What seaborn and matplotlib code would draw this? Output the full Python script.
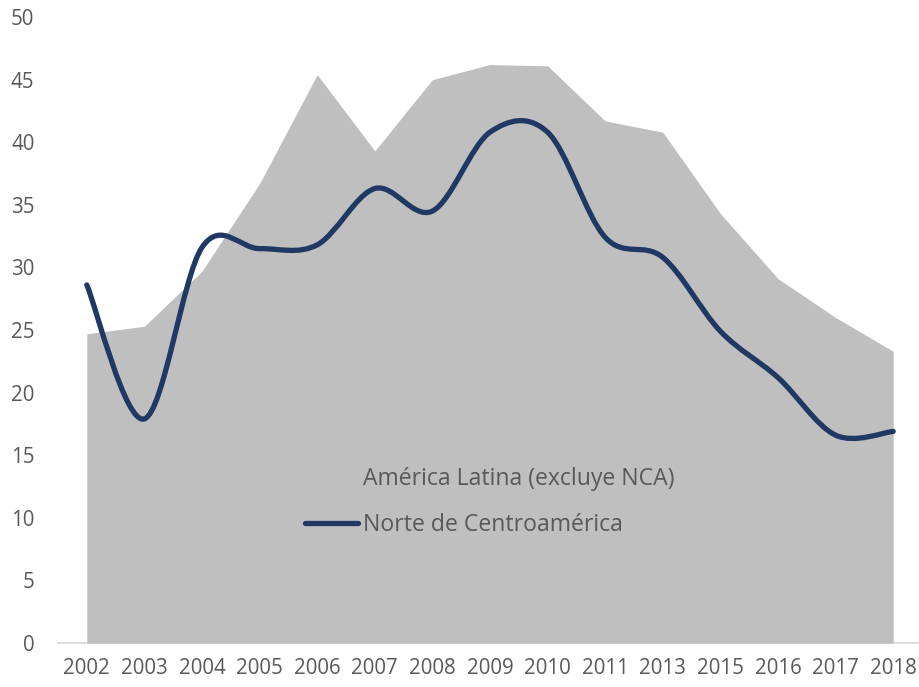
import numpy as np
import pandas as pd
import seaborn as sns
import matplotlib
matplotlib.use("Agg")
import matplotlib.pyplot as plt
from matplotlib.path import Path
from matplotlib.patches import PathPatch, Patch
from matplotlib.lines import Line2D

years = ["2002", "2003", "2004", "2005", "2006", "2007", "2008", "2009",
         "2010", "2011", "2013", "2015", "2016", "2017", "2018"]
america_latina = [24.7, 25.3, 29.7, 36.7, 45.4, 39.3, 45.0, 46.2,
                  46.1, 41.7, 40.8, 34.3, 29.1, 26.0, 23.3]
norte_ca = [28.6, 17.9, 31.6, 31.5, 31.8, 36.3, 34.5, 40.8,
            40.8, 32.4, 30.8, 24.9, 21.2, 16.6, 16.9]
yticks = [0, 5, 10, 15, 20, 25, 30, 35, 40, 45, 50]
label_al = "América Latina (excluye NCA)"
label_nca = "Norte de Centroamérica"

df = pd.DataFrame({"year": years, "al": america_latina, "nca": norte_ca})
df["pos"] = np.arange(len(df))

sns.set_theme(style="white")
plt.rcParams["font.family"] = ["Open Sans", "DejaVu Sans"]

TXT = "#595959"
GRAY = "#BFBFBF"
NAVY = "#1F3864"

W, H = 919, 687
fig = plt.figure(figsize=(W / 100, H / 100), dpi=100)
left, right, bottom, top = 58, 922, 643, 17
ax = fig.add_axes([left / W, (H - bottom) / H, (right - left) / W, (bottom - top) / H])

# area
ax.fill_between(df["pos"], 0, df["al"], color=GRAY, lw=0, zorder=1)

# smoothed line (Catmull-Rom style bezier like Excel smoothing)
x = df["pos"].to_numpy(float)
y = df["nca"].to_numpy(float)
n = len(x)
verts = [(x[0], y[0])]
codes = [Path.MOVETO]
for i in range(n - 1):
    p0 = np.array([x[i - 1], y[i - 1]]) if i > 0 else np.array([x[i], y[i]])
    p1 = np.array([x[i], y[i]])
    p2 = np.array([x[i + 1], y[i + 1]])
    p3 = np.array([x[i + 2], y[i + 2]]) if i + 2 < n else p2
    c1 = p1 + (p2 - p0) / 6.0
    c2 = p2 - (p3 - p1) / 6.0
    verts += [tuple(c1), tuple(c2), tuple(p2)]
    codes += [Path.CURVE4] * 3
ax.add_patch(PathPatch(Path(verts, codes), facecolor="none", edgecolor=NAVY,
                       lw=3.8, capstyle="round", joinstyle="round", zorder=3))

ax.set_xlim(-0.5, n - 0.5)
ax.set_ylim(0, 50)
ax.set_yticks(yticks)
ax.set_yticklabels([str(t) for t in yticks])
ax.set_xticks(df["pos"])
ax.set_xticklabels(years)
ax.tick_params(axis="both", length=0, labelsize=14.8, colors=TXT)
ax.tick_params(axis="y", pad=17)
ax.tick_params(axis="x", pad=11)
for s in ["top", "right", "left"]:
    ax.spines[s].set_visible(False)
ax.spines["bottom"].set_color("#D9D9D9")
ax.spines["bottom"].set_linewidth(1.3)
ax.spines["bottom"].set_zorder(0)
ax.set_xlabel("")
ax.set_ylabel("")
ax.grid(False)

handles = [Patch(facecolor=GRAY, edgecolor="none"),
           Line2D([0], [0], color=NAVY, lw=3.8, solid_capstyle="round")]
leg = fig.legend(handles, [label_al, label_nca], loc="upper left",
                 bbox_to_anchor=(305 / W, 1 - 467 / H), bbox_transform=fig.transFigure,
                 frameon=False, fontsize=16.6, handlelength=2.3, handletextpad=0.2,
                 labelspacing=0.95, borderpad=0, borderaxespad=0)
for t in leg.get_texts():
    t.set_color(TXT)

fig.savefig("out.png", dpi=100)
